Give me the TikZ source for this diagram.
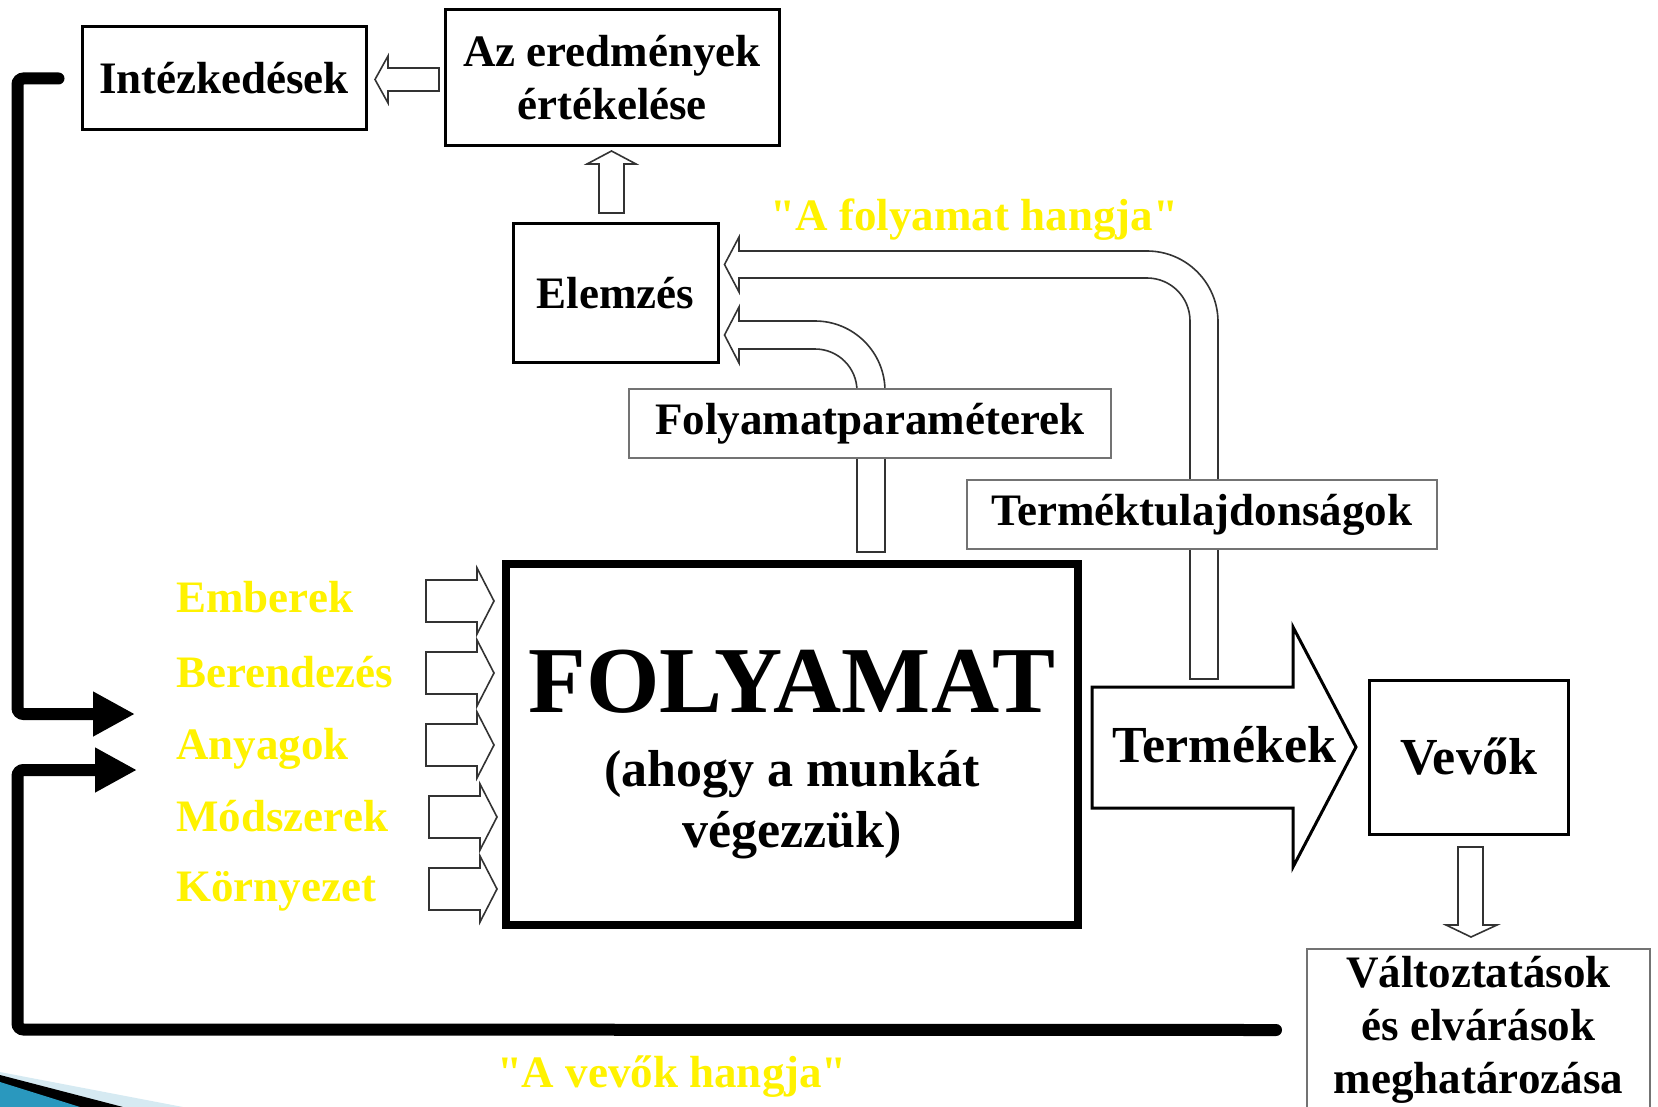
\documentclass[tikz,border=0pt]{standalone}
\usepackage{fontspec}
\newfontfamily\tnr{Liberation Serif}
\usetikzlibrary{arrows.meta}
\definecolor{ornlight}{RGB}{214,234,242}
\definecolor{ornteal}{RGB}{42,152,190}
\begin{document}
\begin{tikzpicture}[x=0.5pt,y=-0.5pt,
  txt/.style={font=\tnr\bfseries\fontsize{22.5}{26.5}\selectfont, align=center},
  bigtxt/.style={font=\tnr\bfseries\fontsize{26}{30.5}\selectfont, align=center},
  box/.style={draw=black, line width=1.5pt, fill=white, inner sep=0pt, txt},
  gbox/.style={draw=black!55, line width=1pt, fill=white, inner sep=0pt, txt},
  pipe/.style={draw=black!80, line width=0.8pt, fill=white, line join=miter},
  fatarrow/.style={draw=black, line width=1.5pt, fill=white, line join=miter},
  fb/.style={line width=6pt, line cap=round, rounded corners=3pt},
  fbtip/.style={-{Triangle[length=21pt,width=21pt]}},
  yel/.style={txt, text=yellow, anchor=base west, inner sep=0pt},
  yelc/.style={txt, text=yellow, anchor=base, inner sep=0pt}]
\useasboundingbox (0,0) rectangle (1658,1107);

% corner ornament
\fill[ornlight] (0,1072) -- (183,1107) -- (0,1107) -- cycle;
\fill[black] (0,1075) -- (123,1107) -- (0,1107) -- cycle;
\fill[ornteal] (0,1082) -- (80,1107) -- (0,1107) -- cycle;

% pipes carrying the measured data back to the analysis
\draw[pipe] (1190,679) -- (1190,321) arc[start angle=0,end angle=-90,radius=43]
  -- (739,278) -- (739,292) -- (724.5,264.5) -- (739,237) -- (739,251)
  -- (1147,251) arc[start angle=-90,end angle=0,radius=71] -- (1218,679) -- cycle;
\draw[pipe] (857,552) -- (857,391) arc[start angle=0,end angle=-90,radius=42]
  -- (739,349) -- (739,363) -- (724.5,335) -- (739,307) -- (739,321)
  -- (815,321) arc[start angle=-90,end angle=0,radius=70] -- (885,552) -- cycle;

% boxes
\node[box, minimum width=142pt, minimum height=51.5pt] (intez) at (224,78.5) {Intézkedések};
\node[box, minimum width=167pt, minimum height=68pt] (ered) at (612,78) {Az eredmények\\értékelése};
\node[box, minimum width=102.5pt, minimum height=69pt] (elem) at (615.5,293) {Elemzés};
\node[gbox, minimum width=241pt, minimum height=34.5pt] (fparam) at (870,423.5) {Folyamatparaméterek};
\node[gbox, minimum width=235pt, minimum height=34.5pt] (ttul) at (1202,514.5) {Terméktulajdonságok};
\node[draw, line width=4pt, minimum width=286pt, minimum height=180.5pt, inner sep=0pt] (proc) at (792,744.5) {};
\node[font=\tnr\bfseries\fontsize{47.2}{52}\selectfont, inner sep=0pt] (proctitle) at (792,682) {FOLYAMAT};
\node[bigtxt, inner sep=0pt] (procsub) at (792,805) {(ahogy a munkát\\végezzük)};
\node[box, font=\tnr\bfseries\fontsize{26}{30.5}\selectfont, minimum width=99.5pt, minimum height=77pt] (vevok) at (1468.5,757) {Vevők};
\node[gbox, minimum width=171.5pt, minimum height=81pt, anchor=north] (valt) at (1478.5,948) {Változtatások\\és elvárások\\meghatározása};

% hollow arrows between the boxes
\draw[pipe] (439,68) -- (388,68) -- (388,56) -- (375,79.5) -- (388,103) -- (388,91) -- (439,91) -- cycle;
\draw[pipe] (599,213) -- (599,164) -- (587,164) -- (611.5,151) -- (636,164) -- (624,164) -- (624,213) -- cycle;
\draw[pipe] (1458,847) -- (1458,925) -- (1446,925) -- (1471,937) -- (1497,925) -- (1483,925) -- (1483,847) -- cycle;

% inputs of the process
\foreach \yc/\xl in {601/426, 673/426, 745/426, 817/429, 889/429}{
  \draw[pipe] (\xl,\yc-21) -- (\xl+51,\yc-21) -- (\xl+51,\yc-33) -- (\xl+68,\yc)
    -- (\xl+51,\yc+33) -- (\xl+51,\yc+21) -- (\xl,\yc+21) -- cycle;
}
\node[yel] (emb) at (176,612) {Emberek};
\node[yel] (ber) at (176,687) {Berendezés};
\node[yel] (any) at (176,759) {Anyagok};
\node[yel] (mod) at (176,831) {Módszerek};
\node[yel] (kor) at (176,901) {Környezet};

% output of the process
\draw[fatarrow] (1092,687) -- (1293,687) -- (1293,627) -- (1356,747) -- (1293,867)
  -- (1293,808) -- (1092,808) -- cycle;
\node[bigtxt] (prod) at (1224.5,745) {Termékek};

% voices
\node[yelc] (vproc) at (974.5,231) {"A folyamat hangja"};
\node[yelc] (vcust) at (672,1087) {"A vevők hangja"};

% feedback loops
\coordinate (in1) at (135,714);
\coordinate (in2) at (137,770);
\draw[fb, fbtip] ([xshift=-11pt]intez.west) -- (17.5,78.5) -- (17.5,714) -- (in1);
\draw[fb, fbtip] ([xshift=-15pt]valt.west) -- (17.5,1029.5) -- (17.5,770) -- (in2);
\end{tikzpicture}
\end{document}
